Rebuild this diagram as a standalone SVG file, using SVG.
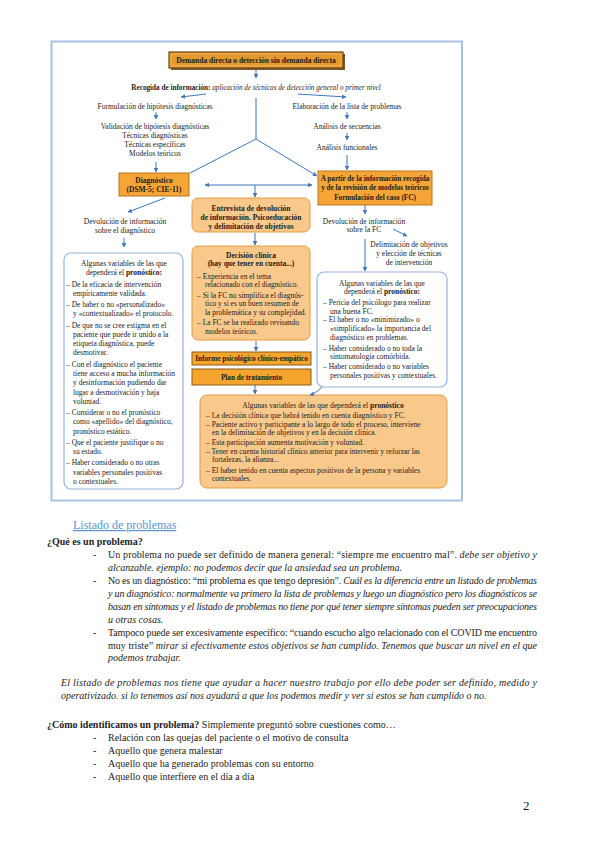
<svg xmlns="http://www.w3.org/2000/svg" width="600" height="848" viewBox="0 0 600 848">
<defs>
<marker id="ah" viewBox="0 0 6 6" refX="5.5" refY="3" markerWidth="4.5" markerHeight="4.5" orient="auto-start-reverse" markerUnits="userSpaceOnUse">
<path d="M0,0 L6,3 L0,6 z" fill="#3f77b8"/>
</marker>
<style>
.t{font-family:"Liberation Serif","Times New Roman",serif;fill:#1c1c1c}
.d{font-size:7.5px}
.s{font-size:7.2px}
.p{font-size:10px}
.b{font-weight:bold}
.i{font-style:italic}
.c{text-anchor:middle}
.ln{stroke:#3f77b8;stroke-width:1;fill:none}
.ar{stroke:#3f77b8;stroke-width:1;fill:none;marker-end:url(#ah)}
.wb{fill:#ffffff;stroke:#93b4dc;stroke-width:1.2}
.lo{fill:#f9c88b;stroke:#e39b45;stroke-width:1}
.bo{fill:#f5a535;stroke:#b9771f;stroke-width:1}
</style>
</defs>
<rect width="600" height="848" fill="#ffffff"/>

<!-- frame -->
<rect x="51.5" y="41.5" width="410.5" height="459" fill="none" stroke="#a9c2e2" stroke-width="2"/>

<g id="n-demanda">
<rect x="171" y="54" width="174" height="16" fill="#7a5a2a"/>
<rect x="169" y="52" width="174" height="16" fill="#e49a2c" stroke="#6e4512" stroke-width="1.2"/>
<rect x="171" y="54" width="170" height="12" fill="none" stroke="#f4c27a" stroke-width="0.6"/>
<text class="t d b c" x="256" y="62.8">Demanda directa o detección sin demanda directa</text>
</g>

<g id="n-recogida">
<text class="t s c" x="256" y="89.5"><tspan class="b">Recogida de información:</tspan><tspan class="i"> aplicación de técnicas de detección general o primer nivel</tspan></text>
</g>

<g id="n-izq">
<text class="t d c" x="155" y="108.5">Formulación de hipótesis diagnósticas</text>
<text class="t d c" x="155" y="128.5">Validación de hipótesis diagnósticas</text>
<text class="t d c" x="155" y="137.5">Técnicas diagnósticas</text>
<text class="t d c" x="155" y="146.5">Técnicas específicas</text>
<text class="t d c" x="155" y="155.5">Modelos teóricos</text>
</g>

<g id="n-der">
<text class="t d c" x="347" y="108.5">Elaboración de la lista de problemas</text>
<text class="t d c" x="347" y="128.5">Análisis de secuencias</text>
<text class="t d c" x="347" y="149.5">Análisis funcionales</text>
</g>

<g id="n-diagnostico">
<rect class="bo" x="119" y="173" width="70" height="23"/>
<text class="t d b c" x="154" y="182.5">Diagnóstico</text>
<text class="t d b c" x="154" y="192">(DSM-5; CIE-11)</text>
</g>

<g id="n-apartir">
<rect class="bo" x="318" y="171" width="114" height="34"/>
<text class="t b c" font-size="7.2" x="375" y="180.5">A partir de la información recogida</text>
<text class="t b c" font-size="7.2" x="375" y="190">y de la revisión de modelos teóricos</text>
<text class="t b c" font-size="7.2" x="375" y="199.5">Formulación del caso (FC)</text>
</g>

<g id="n-devdiag">
<text class="t d c" x="125" y="223.5">Devolución de información</text>
<text class="t d c" x="125" y="232.5">sobre el diagnóstico</text>
</g>

<g id="n-devfc">
<text class="t d c" x="364" y="223.5">Devolución de información</text>
<text class="t d c" x="364" y="232">sobre la FC</text>
</g>

<g id="n-delim">
<text class="t d c" x="409" y="247">Delimitación de objetivos</text>
<text class="t d c" x="409" y="256">y elección de técnicas</text>
<text class="t d c" x="409" y="265">de intervención</text>
</g>

<g id="n-entrevista">
<rect class="lo" x="192" y="198" width="118" height="34" rx="6"/>
<text class="t d b c" x="251" y="210.5">Entrevista de devolución</text>
<text class="t d b c" x="251" y="219.5">de información. Psicoeducación</text>
<text class="t d b c" x="251" y="228.5">y delimitación de objetivos</text>
</g>

<g id="n-decision">
<rect class="lo" x="192" y="246" width="118" height="94" rx="6"/>
<text class="t d b c" x="251" y="257.5">Decisión clínica</text>
<text class="t d b c" x="251" y="266">(hay que tener en cuenta...)</text>
<text class="t d" x="197" y="278.7">– Experiencia en el tema</text>
<text class="t d" x="205" y="287.2">relacionado con el diagnóstico.</text>
<text class="t d" x="197" y="297.7">– Si la FC no simplifica el diagnós-</text>
<text class="t d" x="205" y="306.2">tico y si es un buen resumen de</text>
<text class="t d" x="205" y="314.7">la problemática y su complejidad.</text>
<text class="t d" x="197" y="325.2">– La FC se ha realizado revisando</text>
<text class="t d" x="205" y="333.7">modelos teóricos.</text>
</g>

<g id="n-informe">
<rect x="192" y="352" width="119" height="13" fill="#f5a42e" stroke="#8d5c16" stroke-width="1"/>
<text class="t s b c" x="251.5" y="361">Informe psicológico clínico-empático</text>
</g>

<g id="n-plan">
<rect x="192" y="369" width="119" height="16" fill="#f5a42e" stroke="#8d5c16" stroke-width="1"/>
<text class="t s b c" x="251.5" y="379.5">Plan de tratamiento</text>
</g>

<g id="n-prono-izq">
<rect class="wb" x="64" y="253" width="119" height="236" rx="7"/>
<text class="t d c" x="124" y="265.5">Algunas variables de las que</text>
<text class="t d c" x="124" y="275">dependerá el <tspan class="b">pronóstico:</tspan></text>
<text class="t d" x="66" y="286.5">– De la eficacia de intervención</text>
<text class="t d" x="73" y="295.8">empíricamente validada.</text>
<text class="t d" x="66" y="307">– De haber o no «personalizado»</text>
<text class="t d" x="73" y="316.3">y «contextualizado» el protocolo.</text>
<text class="t d" x="66" y="327.5">– De que no se cree estigma en el</text>
<text class="t d" x="73" y="336.8">paciente que puede ir unido a la</text>
<text class="t d" x="73" y="346.1">etiqueta diagnóstica, puede</text>
<text class="t d" x="73" y="355.4">desmotivar.</text>
<text class="t d" x="66" y="366.6">– Con el diagnóstico el paciente</text>
<text class="t d" x="73" y="375.9">tiene acceso a mucha información</text>
<text class="t d" x="73" y="385.2">y desinformación pudiendo dar</text>
<text class="t d" x="73" y="394.5">lugar a desmotivación y baja</text>
<text class="t d" x="73" y="403.8">voluntad.</text>
<text class="t d" x="66" y="415">– Considerar o no el pronóstico</text>
<text class="t d" x="73" y="424.3">como «apellido» del diagnóstico,</text>
<text class="t d" x="73" y="433.6">pronóstico estático.</text>
<text class="t d" x="66" y="444.8">– Que el paciente justifique o no</text>
<text class="t d" x="73" y="454.1">su estado.</text>
<text class="t d" x="66" y="465.3">– Haber considerado o no otras</text>
<text class="t d" x="73" y="474.6">variables personales positivas</text>
<text class="t d" x="73" y="483.9">o contextuales.</text>
</g>

<g id="n-prono-der">
<rect class="wb" x="317" y="272" width="130" height="115" rx="7"/>
<text class="t d c" x="382" y="285.7">Algunas variables de las que</text>
<text class="t d c" x="382" y="294.4">dependerá el <tspan class="b">pronóstico:</tspan></text>
<text class="t d" x="323" y="305.4">– Pericia del psicólogo para realizar</text>
<text class="t d" x="330" y="313.7">una buena FC.</text>
<text class="t d" x="323" y="322">– El haber o no «minimizado» o</text>
<text class="t d" x="330" y="331">«simplificado» la importancia del</text>
<text class="t d" x="330" y="340.4">diagnóstico en problemas.</text>
<text class="t d" x="323" y="351">– Haber considerado o no toda la</text>
<text class="t d" x="330" y="359.4">sintomatología comórbida.</text>
<text class="t d" x="323" y="369.4">– Haber considerado o no variables</text>
<text class="t d" x="330" y="378.4">personales positivas y contextuales.</text>
</g>

<g id="n-prono-abajo">
<rect class="lo" x="200" y="395" width="247" height="93" rx="7"/>
<text class="t d c" x="323" y="407.5">Algunas variables de las que dependerá el <tspan class="b">pronóstico</tspan></text>
<text class="t d" x="206" y="417.7">– La decisión clínica que habrá tenido en cuenta diagnóstico y FC.</text>
<text class="t d" x="206" y="427">– Paciente activo y participante a lo largo de todo el proceso, interviene</text>
<text class="t d" x="212" y="434.5">en la delimitación de objetivos y en la decisión clínica.</text>
<text class="t d" x="206" y="445">– Esta participación aumenta motivación y voluntad.</text>
<text class="t d" x="206" y="454.4">– Tener en cuenta historial clínico anterior para intervenir y reforzar las</text>
<text class="t d" x="212" y="462">fortalezas, la alianza...</text>
<text class="t d" x="206" y="472.7">– El haber tenido en cuenta aspectos positivos de la persona y variables</text>
<text class="t d" x="212" y="481">contextuales.</text>
</g>

<g id="connectors">
<line class="ar" x1="256" y1="70" x2="256" y2="78"/>
<line class="ar" x1="206" y1="94" x2="181" y2="97"/>
<line class="ar" x1="298" y1="94" x2="346" y2="97"/>
<line class="ln" x1="256" y1="98" x2="256" y2="139" stroke-width="1.6"/>
<line class="ln" x1="256" y1="139" x2="190" y2="173" stroke-width="1.4"/>
<line class="ar" x1="256" y1="139" x2="317" y2="176" stroke-width="1.4"/>
<line class="ar" x1="156" y1="112" x2="156" y2="119"/>
<line class="ar" x1="156" y1="162" x2="156" y2="172"/>
<line class="ar" x1="347" y1="112" x2="347" y2="119"/>
<line class="ar" x1="347" y1="133" x2="347" y2="140"/>
<line class="ar" x1="347" y1="155" x2="347" y2="170"/>
<line class="ar" x1="205" y1="185" x2="312" y2="185" marker-start="url(#ah)"/>
<line class="ar" x1="255" y1="185" x2="255" y2="197"/>
<line class="ar" x1="165" y1="198" x2="128" y2="212"/>
<line class="ar" x1="124" y1="238" x2="124" y2="247"/>
<line class="ar" x1="255" y1="233" x2="255" y2="245"/>
<line class="ar" x1="256" y1="341" x2="256" y2="351"/>
<line class="ar" x1="255" y1="385" x2="255" y2="394"/>
<line class="ar" x1="365" y1="205" x2="365" y2="214"/>
<line class="ar" x1="393" y1="229" x2="407" y2="236"/>
<line class="ar" x1="365" y1="239" x2="365" y2="271"/>
<path class="ar" d="M322,387 Q318,392 310,395"/>
</g>

<g id="texto">
<text class="t" x="73" y="529" font-size="12" style="fill:#5b93d3" text-decoration="underline">Listado de problemas</text>
<text class="t p b" x="47" y="544.5">¿Qué es un problema?</text>
<text class="t p" x="93" y="557.5">-</text>
<text class="t p" x="108" y="557.5" textLength="429" lengthAdjust="spacing">Un problema no puede ser definido de manera general: “siempre me encuentro mal”. <tspan class="i">debe ser objetivo y</tspan></text>
<text class="t p i" x="108" y="570.5">alcanzable. ejemplo: no podemos decir que la ansiedad sea un problema.</text>
<text class="t p" x="93" y="583.5">-</text>
<text class="t p" x="108" y="583.5" textLength="429" lengthAdjust="spacing">No es un diagnóstico: “mi problema es que tengo depresión”. <tspan class="i">Cuál es la diferencia entre un listado de problemas</tspan></text>
<text class="t p i" x="108" y="596.5" textLength="429" lengthAdjust="spacing">y un diagnóstico: normalmente va primero la lista de problemas y luego un diagnóstico pero los diagnósticos se</text>
<text class="t p i" x="108" y="609.5" textLength="429" lengthAdjust="spacing">basan en síntomas y el listado de problemas no tiene por qué tener siempre síntomas pueden ser preocupaciones</text>
<text class="t p i" x="108" y="622.5">u otras cosas.</text>
<text class="t p" x="93" y="636">-</text>
<text class="t p" x="108" y="636" textLength="429" lengthAdjust="spacing">Tampoco puede ser excesivamente específico: “cuando escucho algo relacionado con el COVID me encuentro</text>
<text class="t p" x="108" y="648.5" textLength="429" lengthAdjust="spacing">muy triste” <tspan class="i">mirar si efectivamente estos objetivos se han cumplido. Tenemos que buscar un nivel en el que</tspan></text>
<text class="t p i" x="108" y="661">podemos trabajar.</text>
<text class="t p i" x="61" y="686" textLength="476" lengthAdjust="spacing">El listado de problemas nos tiene que ayudar a hacer nuestro trabajo por ello debe poder ser definido, medido y</text>
<text class="t p i" x="61" y="699">operativizado. si lo tenemos así nos ayudará a que los podemos medir y ver si estos se han cumplido o no.</text>
<text class="t p" x="47" y="728"><tspan class="b">¿Cómo identificamos un problema?</tspan> Simplemente preguntó sobre cuestiones como…</text>
<text class="t p" x="93" y="741">-</text>
<text class="t p" x="108" y="741">Relación con las quejas del paciente o el motivo de consulta</text>
<text class="t p" x="93" y="754">-</text>
<text class="t p" x="108" y="754">Aquello que genera malestar</text>
<text class="t p" x="93" y="767">-</text>
<text class="t p" x="108" y="767">Aquello que ha generado problemas con su entorno</text>
<text class="t p" x="93" y="780">-</text>
<text class="t p" x="108" y="780">Aquello que interfiere en el día a día</text>
<text class="t" x="523" y="810" font-size="13">2</text>
</g>
</svg>
